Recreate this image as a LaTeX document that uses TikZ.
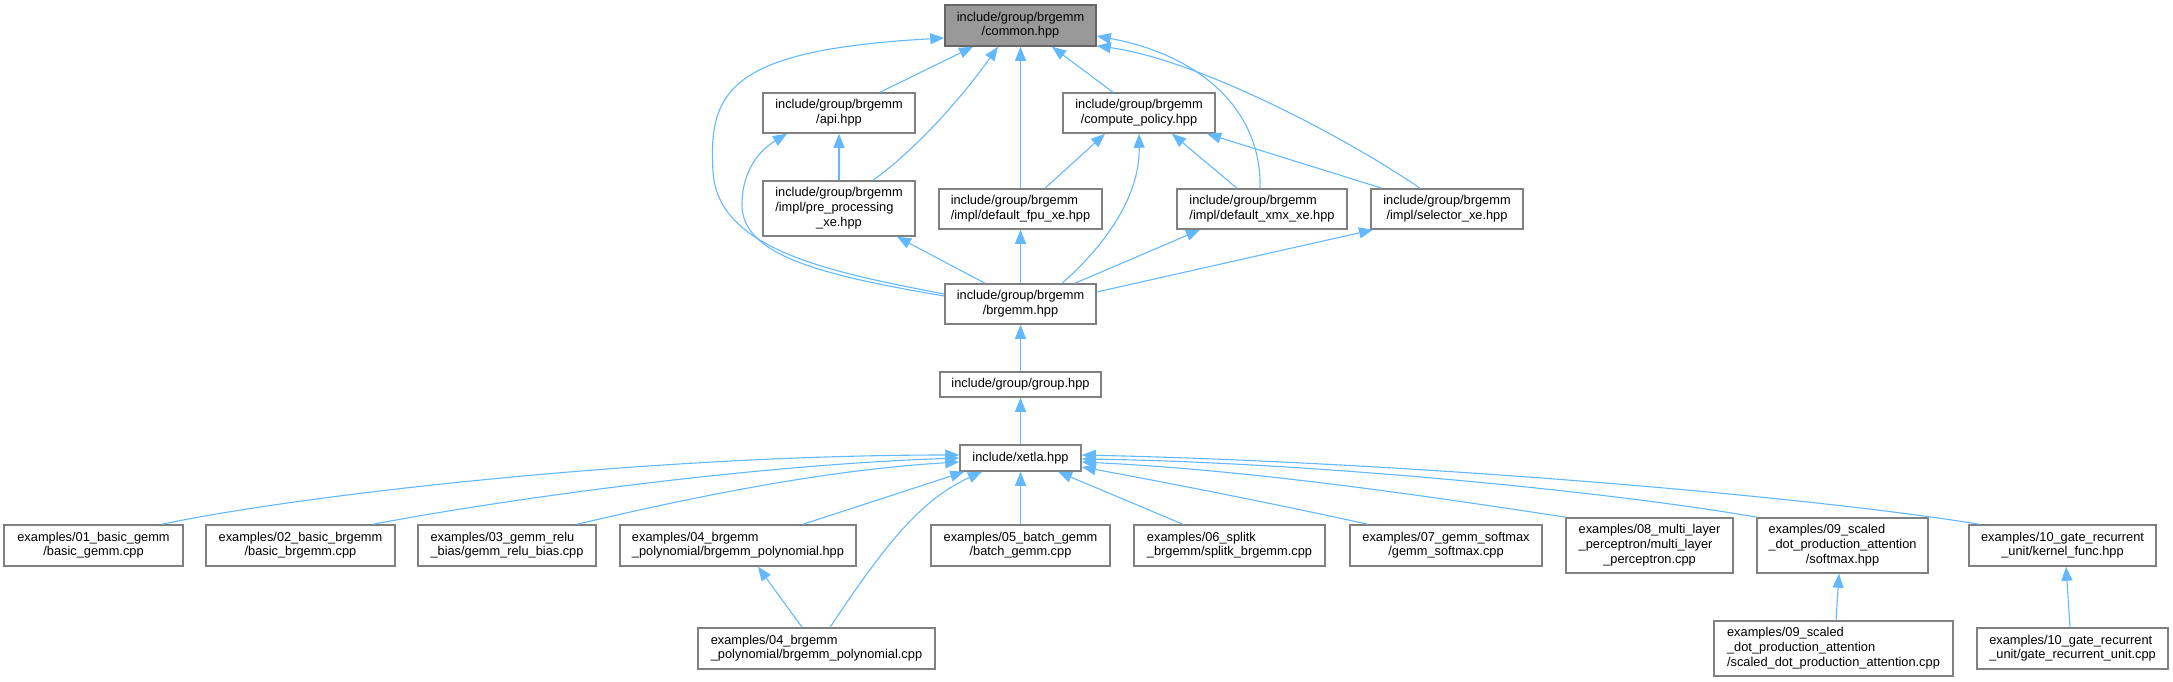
\documentclass[tikz,border=0pt]{standalone}
\usepackage{fontspec}
\setmainfont{Liberation Sans}
\usetikzlibrary{arrows.meta}
\definecolor{edgeblue}{HTML}{63B8FF}
\definecolor{boxline}{HTML}{808080}
\definecolor{rootline}{HTML}{666666}
\definecolor{rootfill}{HTML}{999999}
\newcommand\lbl[2]{\begin{tabular}{@{}l@{}}#1\\\multicolumn{1}{@{}c@{}}{#2}\end{tabular}}
\begin{document}
\begin{tikzpicture}[x=1pt,y=-1pt,
  box/.style={draw=boxline, line width=1.5pt, fill=white, inner sep=0pt,
    font=\fontsize{12.8}{14.7}\selectfont, text=black},
  dep/.style={draw=edgeblue, line width=1.1pt,
    -{Triangle[length=14pt,width=11pt,fill=edgeblue]}}]
\useasboundingbox (0,0) rectangle (2173,681);
% nodes
\node[box, draw=rootline, fill=rootfill, minimum width=151pt, minimum height=41pt] (common) at (1020.5,25.5) {\lbl{include/group/brgemm}{/common.hpp}};
\node[box, minimum width=152pt, minimum height=40pt] (api) at (839,113) {\lbl{include/group/brgemm}{/api.hpp}};
\node[box, minimum width=152pt, minimum height=40pt] (cp) at (1139,113) {\lbl{include/group/brgemm}{/compute\_policy.hpp}};
\node[box, minimum width=152pt, minimum height=55pt] (pre) at (839,208.5) {\lbl{include/group/brgemm\\/impl/pre\_processing}{\_xe.hpp}};
\node[box, minimum width=163pt, minimum height=40pt] (fpu) at (1020.5,209) {\lbl{include/group/brgemm}{/impl/default\_fpu\_xe.hpp}};
\node[box, minimum width=170pt, minimum height=40pt] (xmx) at (1262,209) {\lbl{include/group/brgemm}{/impl/default\_xmx\_xe.hpp}};
\node[box, minimum width=152pt, minimum height=40pt] (sel) at (1447,209) {\lbl{include/group/brgemm}{/impl/selector\_xe.hpp}};
\node[box, minimum width=151pt, minimum height=40pt] (brgemm) at (1020.5,304) {\lbl{include/group/brgemm}{/brgemm.hpp}};
\node[box, minimum width=161pt, minimum height=25pt] (group) at (1020.5,384.5) {include/group/group.hpp};
\node[box, minimum width=121pt, minimum height=26pt] (xetla) at (1020.5,458) {include/xetla.hpp};
\node[box, minimum width=179pt, minimum height=41pt] (ex01) at (93.5,545.5) {\lbl{examples/01\_basic\_gemm}{/basic\_gemm.cpp}};
\node[box, minimum width=189pt, minimum height=41pt] (ex02) at (300.5,545.5) {\lbl{examples/02\_basic\_brgemm}{/basic\_brgemm.cpp}};
\node[box, minimum width=178pt, minimum height=41pt] (ex03) at (507,545.5) {\lbl{examples/03\_gemm\_relu}{\_bias/gemm\_relu\_bias.cpp}};
\node[box, minimum width=236pt, minimum height=41pt] (ex04h) at (738,545.5) {\lbl{examples/04\_brgemm}{\_polynomial/brgemm\_polynomial.hpp}};
\node[box, minimum width=179pt, minimum height=41pt] (ex05) at (1020.5,545.5) {\lbl{examples/05\_batch\_gemm}{/batch\_gemm.cpp}};
\node[box, minimum width=191pt, minimum height=41pt] (ex06) at (1229.5,545.5) {\lbl{examples/06\_splitk}{\_brgemm/splitk\_brgemm.cpp}};
\node[box, minimum width=192pt, minimum height=41pt] (ex07) at (1446,545.5) {\lbl{examples/07\_gemm\_softmax}{/gemm\_softmax.cpp}};
\node[box, minimum width=167pt, minimum height=55pt] (ex08) at (1649.5,545.5) {\lbl{examples/08\_multi\_layer\\\_perceptron/multi\_layer}{\_perceptron.cpp}};
\node[box, minimum width=171pt, minimum height=55pt] (ex09h) at (1842.5,545.5) {\lbl{examples/09\_scaled\\\_dot\_production\_attention}{/softmax.hpp}};
\node[box, minimum width=187pt, minimum height=41pt] (ex10h) at (2062.5,545.5) {\lbl{examples/10\_gate\_recurrent}{\_unit/kernel\_func.hpp}};
\node[box, minimum width=237pt, minimum height=41pt] (ex04c) at (816.5,648.5) {\lbl{examples/04\_brgemm}{\_polynomial/brgemm\_polynomial.cpp}};
\node[box, minimum width=239pt, minimum height=55pt] (ex09c) at (1833.5,648.5) {\lbl{examples/09\_scaled\\\_dot\_production\_attention}{/scaled\_dot\_production\_attention.cpp}};
\node[box, minimum width=191pt, minimum height=41pt] (ex10c) at (2072.5,648.5) {\lbl{examples/10\_gate\_recurrent}{\_unit/gate\_recurrent\_unit.cpp}};
% edges into common
\draw[dep] ([xshift=41pt]api.north) -- ([xshift=-47.5pt]common.south);
\draw[dep] ([xshift=34pt]pre.north) .. controls (915,150) and (960,100) .. ([xshift=-22.5pt]common.south);
\draw[dep] (fpu.north) -- (common.south);
\draw[dep] ([xshift=-26pt]cp.north) -- ([xshift=31.5pt]common.south);
\draw[dep] ([xshift=-2pt]xmx.north) .. controls (1262,110) and (1200,55) .. ([yshift=-10.5pt]common.east);
\draw[dep] ([xshift=-27pt]sel.north) .. controls (1350,140) and (1200,60) .. ([yshift=1pt]common.south east);
\draw[dep] ([yshift=10pt]brgemm.west) .. controls (830,272) and (718,250) .. (713,172) .. controls (708,90) and (730,50) .. ([yshift=-12.5pt]common.west);
% edges into api
\draw[dep] ([yshift=8pt]brgemm.west) .. controls (820,275) and (742,255) .. (742,205) .. controls (742,170) and (760,150) .. ([xshift=-52pt]api.south);
\draw[dep] (pre.north) -- (api.south);
% edges into compute_policy
\draw[dep] ([xshift=24.5pt]fpu.north) -- ([xshift=-34pt]cp.south);
\draw[dep] ([xshift=41.5pt]brgemm.north) .. controls (1100,250) and (1140,200) .. (cp.south);
\draw[dep] ([xshift=-25pt]xmx.north) -- ([xshift=33pt]cp.south);
\draw[dep] ([xshift=-65pt]sel.north) -- ([xshift=68pt]cp.south);
% edges into impl headers
\draw[dep] ([xshift=-35.5pt]brgemm.north) -- ([xshift=58pt]pre.south);
\draw[dep] (brgemm.north) -- (fpu.south);
\draw[dep] ([xshift=54.5pt]brgemm.north) -- ([xshift=-62pt]xmx.south);
\draw[dep] ([yshift=12pt]brgemm.east) -- ([xshift=-74pt]sel.south);
% chain
\draw[dep] (group.north) -- (brgemm.south);
\draw[dep] (xetla.north) -- (group.south);
% examples into xetla
\draw[dep] ([xshift=68.5pt]ex01.north) .. controls (300,495) and (650,455) .. ([yshift=3pt]xetla.west);
\draw[dep] ([xshift=72.5pt]ex02.north) .. controls (500,500) and (750,465) .. (xetla.west);
\draw[dep] ([xshift=70pt]ex03.north) .. controls (680,500) and (820,470) .. ([yshift=-4pt]xetla.west);
\draw[dep] ([xshift=65pt]ex04h.north) -- ([xshift=5pt]xetla.south west);
\draw[dep] ([xshift=13.5pt]ex04c.north) .. controls (885,545) and (920,500) .. ([xshift=-38.5pt]xetla.south);
\draw[dep] ([xshift=-14.5pt]ex04c.north) -- ([xshift=20pt]ex04h.south);
\draw[dep] (ex05.north) -- (xetla.south);
\draw[dep] ([xshift=-46.5pt]ex06.north) -- ([xshift=37.5pt]xetla.south);
\draw[dep] ([xshift=-78pt]ex07.north) .. controls (1280,505) and (1180,485) .. ([yshift=-9pt]xetla.east);
\draw[dep] ([xshift=1pt]ex08.north west) .. controls (1420,495) and (1250,470) .. ([yshift=-4pt]xetla.east);
\draw[dep] ([xshift=1pt]ex09h.north west) .. controls (1600,490) and (1300,462) .. ([yshift=-1pt]xetla.east);
\draw[dep] ([xshift=11pt]ex10h.north west) .. controls (1800,495) and (1400,462) .. ([yshift=3pt]xetla.east);
\draw[dep] ([xshift=2.5pt]ex09c.north) -- ([xshift=-3.5pt]ex09h.south);
\draw[dep] ([xshift=-2.5pt]ex10c.north) -- ([xshift=3.5pt]ex10h.south);
\end{tikzpicture}
\end{document}
